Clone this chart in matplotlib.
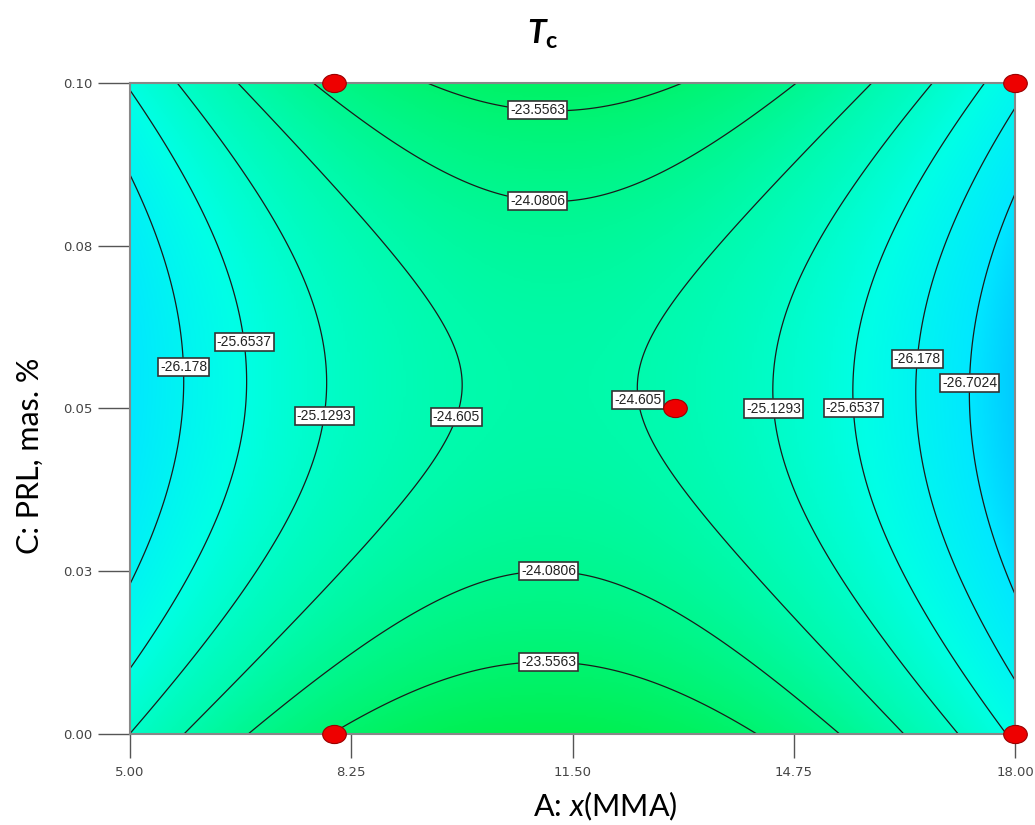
import numpy as np
import matplotlib
matplotlib.use("Agg")
import matplotlib.pyplot as plt
from matplotlib.colors import LinearSegmentedColormap, Normalize
from matplotlib.path import Path
from matplotlib.transforms import Affine2D

# Modelo cuadratico (unidades codificadas): b0, A, C, AC, A^2, C^2
coef = [-24.51, -0.255, -0.178, 0.060, -2.438, 1.33]
a_lim = [5.0, 18.0]
c_lim = [0.0, 0.10]

# niveles de contorno
niveles = [-26.7024, -26.178, -25.6537, -25.1293, -24.605, -24.0806, -23.5563]

# puntos de diseno
pts_a = [8.0, 18.0, 13.0, 8.0, 18.0]
pts_c = [0.10, 0.10, 0.05, 0.0, 0.0]

# ejes
xticks = [5.0, 8.25, 11.5, 14.75, 18.0]
xtick_labels = ["5.00", "8.25", "11.50", "14.75", "18.00"]
yticks = [0.0, 0.025, 0.05, 0.075, 0.10]
ytick_labels = ["0.00", "0.03", "0.05", "0.08", "0.10"]

# posiciones aproximadas de las etiquetas de contorno
lab_a = [11.0, 11.0, 5.81, 6.69, 7.82, 9.73, 12.49, 14.46, 15.6, 16.55, 17.31, 11.15, 11.15]
lab_c = [0.0975, 0.0835, 0.0564, 0.0602, 0.0489, 0.0489, 0.0513, 0.05, 0.05, 0.0576, 0.0539, 0.0258, 0.0118]

plt.rcParams['mathtext.fontset'] = 'custom'
plt.rcParams['mathtext.rm'] = 'Lato'
plt.rcParams['mathtext.it'] = 'Lato:italic'
plt.rcParams['mathtext.bf'] = 'Lato:bold'
plt.rcParams['mathtext.bfit'] = 'Lato:bold:italic'

# superficie
a = np.linspace(a_lim[0], a_lim[1], 400)
c = np.linspace(c_lim[0], c_lim[1], 400)
AA, CC = np.meshgrid(a, c)
A = (AA - 11.5) / 6.5
C = (CC - 0.05) / 0.05
Z = coef[0] + coef[1]*A + coef[2]*C + coef[3]*A*C + coef[4]*A**2 + coef[5]*C**2

cmap = LinearSegmentedColormap.from_list("dx", [
    (0.0, "#00c8ff"), (0.13, "#00e8ff"), (0.36, "#00ffe6"),
    (0.64, "#00faaa"), (1.0, "#00f050")])
norm = Normalize(vmin=-27.25, vmax=-23.0)

fig = plt.figure(figsize=(10.35, 8.25), dpi=100)
ax = fig.add_axes([0.1256, 0.1103, 0.8551, 0.7891])

ax.imshow(Z, origin='lower', extent=[a_lim[0], a_lim[1], c_lim[0], c_lim[1]],
          aspect='auto', cmap=cmap, norm=norm, interpolation='bilinear')
cs = ax.contour(AA, CC, Z, levels=niveles, colors='#1a1a1a', linewidths=0.9,
                linestyles='solid')
ax.set_xlim(a_lim)
ax.set_ylim(c_lim)

txts = ax.clabel(cs, inline=False, fontsize=10, fmt=lambda v: "%g" % v,
                 manual=list(zip(lab_a, lab_c)), colors='#222222')
for t in txts:
    t.set_rotation(0)
    t.set_family('Liberation Sans')
    t.set_bbox(dict(boxstyle='square,pad=0.15', fc='white', ec='#333333', lw=1.2))
    t.set_zorder(5)

# marcador eliptico como en Design-Expert
elipse = Path.unit_circle().transformed(Affine2D().scale(1.3, 1.0))
ax.plot(pts_a, pts_c, linestyle='none', marker=elipse, color='#ee0000',
        mec='#990000', mew=0.8, markersize=17, clip_on=False, zorder=6)

ax.set_xticks(xticks)
ax.set_xticklabels(xtick_labels)
ax.set_yticks(yticks)
ax.set_yticklabels(ytick_labels)
ax.tick_params(axis='x', length=17, width=1, color='#555555', labelsize=9.5,
               labelcolor='#444444', pad=6)
ax.tick_params(axis='y', length=23, width=1, color='#555555', labelsize=9.5,
               labelcolor='#444444', pad=4)
for s in ax.spines.values():
    s.set_color('#888888')
    s.set_linewidth(1.5)

fig.text(0.525, 0.958, r'$\mathbfit{T}_{\mathbf{c}}$', fontsize=24, ha='center', va='center')
fig.text(0.585, 0.022, r'A: $\mathit{x}$(MMA)', fontsize=22, family='Lato',
         ha='center', va='center')
fig.text(0.029, 0.448, 'C: PRL, mas. %', fontsize=22, family='Lato',
         ha='center', va='center', rotation=90)

fig.savefig("out.png", dpi=100)
